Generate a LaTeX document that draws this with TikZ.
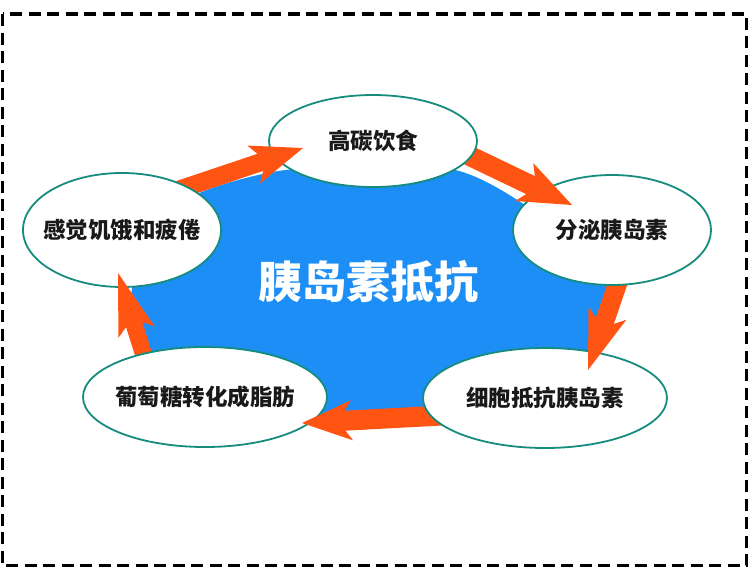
\documentclass[tikz,border=0pt]{standalone}
\usepackage{fontspec}
\newfontfamily\cjk{Noto Sans CJK SC}
\usetikzlibrary{calc,shapes.geometric}
\definecolor{bgblue}{RGB}{28,142,245}
\definecolor{arrorange}{RGB}{255,84,18}
\definecolor{ellteal}{RGB}{22,140,125}
\definecolor{txt}{RGB}{25,25,25}
\newcommand\mbx[1]{\makebox[0pt]{#1}}
% tail, tip, half shaft, half head, barb distance, junction distance
\newcommand\fatarrow[6]{%
  \coordinate (fa-b) at ($(#2)!#5pt!(#1)$);
  \coordinate (fa-j) at ($(#2)!#6pt!(#1)$);
  \fill[arrfill] ($(#1)!#3pt!90:(#2)$) -- ($(fa-j)!#3pt!90:(#2)$) -- ($(fa-b)!#4pt!90:(#2)$) -- (#2)
    -- ($(fa-b)!#4pt!-90:(#2)$) -- ($(fa-j)!#3pt!-90:(#2)$) -- ($(#1)!#3pt!-90:(#2)$) -- cycle;
}
\begin{document}
\begin{tikzpicture}[x=1pt,y=-1pt,
  ell/.style={ellipse, draw=ellteal, line width=1.8pt, fill=white, inner sep=0pt,
    font=\cjk\bfseries\fontsize{22.5}{24}\selectfont, text=txt},
  arrfill/.style={fill=arrorange},
  border/.style={draw=black, line width=3.5pt, dash pattern=on 12pt off 6.5pt},
  centertext/.style={font=\cjk\bfseries\fontsize{44}{48}\selectfont, text=white}]
\useasboundingbox (0,0) rectangle (750,581);
\fill[white] (0,0) rectangle (750,581);
\draw[border] (2.5,14) rectangle (746.5,565.5);

% central blue region
\fill[bgblue] plot[smooth cycle, tension=0.55] coordinates {
  (195,195) (285,170) (373,172) (455,170) (525,205) (575,250) (608,285)
  (592,350) (545,385) (430,412) (320,414) (215,385) (146,350) (132,288) (165,230)};

% arrow end points
\coordinate (t1) at (175,191); \coordinate (p1) at (303,148);
\coordinate (t2) at (447,145); \coordinate (p2) at (572,205);
\coordinate (t3) at (625,262); \coordinate (p3) at (588,370);
\coordinate (t4) at (470,414); \coordinate (p4) at (302,423);
\coordinate (t5) at (150,375); \coordinate (p5) at (118,273);

\fatarrow{t1}{p1}{9}{20}{52}{45}
\fatarrow{t2}{p2}{10}{21}{53}{46}
\fatarrow{t3}{p3}{9.5}{20}{60}{52}
\fatarrow{t4}{p4}{10}{20}{50}{43}
\fatarrow{t5}{p5}{8.5}{19}{62}{54}

% ellipses
\node[ell, minimum width=208pt, minimum height=92pt] (e1) at (373,141) {\mbx{高碳饮食}};
\node[ell, minimum width=198pt, minimum height=110pt] (e2) at (612,230) {\mbx{分泌胰岛素}};
\node[ell, minimum width=244pt, minimum height=100pt] (e3) at (545,398) {\mbx{细胞抵抗胰岛素}};
\node[ell, minimum width=244pt, minimum height=100pt] (e4) at (205,397) {\mbx{葡萄糖转化成脂肪}};
\node[ell, minimum width=198pt, minimum height=114pt] (e5) at (122,230) {\mbx{感觉饥饿和疲倦}};

% arrow tips over the target ellipses
\begin{scope}\clip (e1.center) ellipse [x radius=105pt, y radius=47pt];
\fatarrow{t1}{p1}{9}{20}{52}{45}\end{scope}
\begin{scope}\clip (e2.center) ellipse [x radius=100pt, y radius=56pt];
\fatarrow{t2}{p2}{10}{21}{53}{46}\end{scope}
\begin{scope}\clip (e3.center) ellipse [x radius=123pt, y radius=51pt];
\fatarrow{t3}{p3}{9.5}{20}{60}{52}\end{scope}
\begin{scope}\clip (e4.center) ellipse [x radius=123pt, y radius=51pt];
\fatarrow{t4}{p4}{10}{20}{50}{43}\end{scope}
\begin{scope}\clip (e5.center) ellipse [x radius=100pt, y radius=58pt];
\fatarrow{t5}{p5}{8.5}{19}{62}{54}\end{scope}

\node[centertext] (ct) at (368,282) {胰岛素抵抗};
\end{tikzpicture}
\end{document}
